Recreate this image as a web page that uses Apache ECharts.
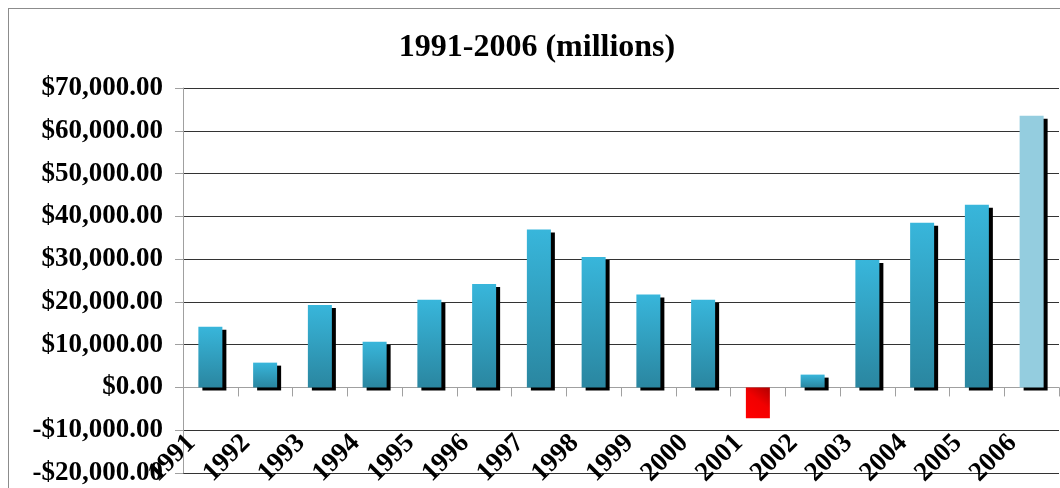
<!DOCTYPE html>
<html>
<head>
<meta charset="utf-8">
<script src="https://cdn.jsdelivr.net/npm/echarts@6/dist/echarts.min.js"></script>
<style>
  html, body { margin: 0; padding: 0; width: 1060px; height: 488px; overflow: hidden; background: #fff; }
  #frame { position: absolute; left: 8px; top: 8px; width: 1100px; height: 600px; border: 1px solid #8c8c8c; box-sizing: border-box; }
  #chart { position: absolute; left: 0; top: 0; width: 1060px; height: 488px; }
</style>
</head>
<body>
<div id="frame"></div>
<div id="chart"></div>
<script>
const titleText = '1991-2006 (millions)';
const years = ['1991','1992','1993','1994','1995','1996','1997','1998','1999','2000','2001','2002','2003','2004','2005','2006'];
const values = [14200, 5800, 19300, 10700, 20500, 24200, 36900, 30500, 21700, 20500, -7200, 3000, 29800, 38500, 42700, 63500];
const highlightYear = '2006';

const FONT = '"Liberation Serif", "Times New Roman", serif';

const blueFill = new echarts.graphic.LinearGradient(0, 0, 0, 1, [
  { offset: 0, color: '#38b6db' },
  { offset: 1, color: '#2a86a0' }
]);
const redFill = new echarts.graphic.LinearGradient(0, 1, 1, 0, [
  { offset: 0, color: '#ff0000' },
  { offset: 0.55, color: '#f20000' },
  { offset: 1, color: '#b00000' }
]);

const barData = values.map((v, i) => {
  if (v < 0) {
    return { value: v, itemStyle: { color: redFill, shadowColor: 'rgba(0,0,0,0)' } };
  }
  if (years[i] === highlightYear) {
    return { value: v, itemStyle: { color: '#94cddf' } };
  }
  return { value: v, itemStyle: { color: blueFill } };
});

function money(v) {
  const s = Math.abs(v).toLocaleString('en-US', { minimumFractionDigits: 2, maximumFractionDigits: 2 });
  return (v < 0 ? '-' : '') + '$' + s;
}

const chart = echarts.init(document.getElementById('chart'), null, { renderer: 'canvas' });
chart.setOption({
  animation: false,
  backgroundColor: 'transparent',
  title: {
    text: titleText,
    left: 532,
    top: 27,
    textAlign: 'center',
    textStyle: { fontFamily: FONT, fontWeight: 'bold', fontSize: 32, color: '#000' }
  },
  grid: { left: 183, right: 1, top: 88, bottom: 15, containLabel: false, outerBoundsMode: 'none' },
  xAxis: {
    type: 'category',
    data: years,
    z: 1,
    boundaryGap: true,
    axisLine: { show: true, onZero: true, lineStyle: { color: '#a0a0a0', width: 1 } },
    axisTick: { show: true, length: 9, inside: false, lineStyle: { color: '#a0a0a0' } },
    axisLabel: {
      interval: 0,
      rotate: 45,
      margin: -53,
      padding: [0, 27, 0, 0],
      hideOverlap: false,
      fontFamily: FONT,
      fontWeight: 'bold',
      fontSize: 27,
      color: '#000'
    },
    splitLine: { show: false }
  },
  yAxis: {
    type: 'value',
    min: -20000,
    max: 70000,
    interval: 10000,
    axisLine: { show: true, lineStyle: { color: '#a0a0a0' } },
    axisTick: { show: true, length: 8, lineStyle: { color: '#a0a0a0' } },
    axisLabel: {
      margin: 20,
      formatter: money,
      fontFamily: FONT,
      fontWeight: 'bold',
      fontSize: 27,
      color: '#000'
    },
    splitLine: { show: true, lineStyle: { color: '#333', width: 1 } }
  },
  series: [{
    type: 'bar',
    data: barData,
    barWidth: 24,
    itemStyle: {
      shadowColor: '#000',
      shadowBlur: 0,
      shadowOffsetX: 4,
      shadowOffsetY: 3
    }
  }]
});
</script>
</body>
</html>
